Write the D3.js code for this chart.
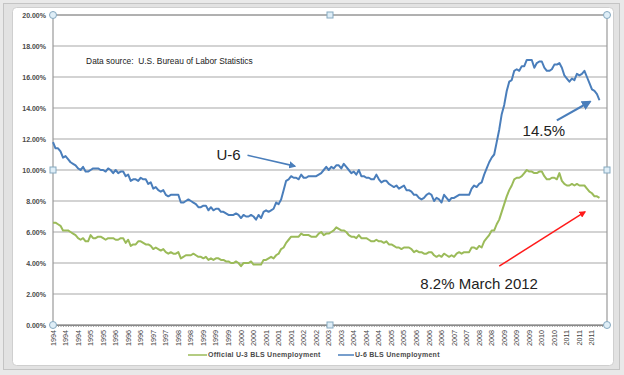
<!DOCTYPE html>
<html>
<head>
<meta charset="utf-8">
<script src="https://cdn.jsdelivr.net/npm/d3@7"></script>
<style>
  body { margin: 0; background: #fff; }
  svg { display: block; }
  text { font-family: "Liberation Sans", Arial, sans-serif; }
</style>
</head>
<body>
<svg id="svg1" width="624" height="375"></svg>
<script>
// monthly rates, Jan 1994 .. Mar 2012 (percent)
var u3Rate = [
  6.6, 6.6, 6.5, 6.4, 6.1, 6.1, 6.1, 6.0, 5.9, 5.8, 5.6, 5.5,
  5.6, 5.4, 5.4, 5.8, 5.6, 5.6, 5.7, 5.7, 5.6, 5.5, 5.6, 5.6,
  5.6, 5.5, 5.5, 5.6, 5.6, 5.3, 5.5, 5.1, 5.2, 5.2, 5.4, 5.4,
  5.3, 5.2, 5.2, 5.1, 4.9, 5.0, 4.9, 4.8, 4.9, 4.7, 4.6, 4.7,
  4.6, 4.6, 4.7, 4.3, 4.4, 4.5, 4.5, 4.5, 4.6, 4.5, 4.4, 4.4,
  4.3, 4.4, 4.2, 4.3, 4.2, 4.3, 4.3, 4.2, 4.2, 4.1, 4.1, 4.0,
  4.0, 4.1, 4.0, 3.8, 4.0, 4.0, 4.0, 4.1, 3.9, 3.9, 3.9, 3.9,
  4.2, 4.2, 4.3, 4.4, 4.3, 4.5, 4.6, 4.9, 5.0, 5.3, 5.5, 5.7,
  5.7, 5.7, 5.7, 5.9, 5.8, 5.8, 5.8, 5.7, 5.7, 5.7, 5.9, 6.0,
  5.8, 5.9, 5.9, 6.0, 6.1, 6.3, 6.2, 6.1, 6.1, 6.0, 5.8, 5.7,
  5.7, 5.6, 5.8, 5.6, 5.6, 5.6, 5.5, 5.4, 5.4, 5.5, 5.4, 5.4,
  5.3, 5.4, 5.2, 5.2, 5.1, 5.0, 5.0, 4.9, 5.0, 5.0, 5.0, 4.9,
  4.7, 4.8, 4.7, 4.7, 4.6, 4.6, 4.7, 4.7, 4.5, 4.4, 4.5, 4.4,
  4.6, 4.5, 4.4, 4.5, 4.4, 4.6, 4.7, 4.6, 4.7, 4.7, 4.7, 5.0,
  5.0, 4.9, 5.1, 5.0, 5.4, 5.6, 5.8, 6.1, 6.1, 6.5, 6.8, 7.3,
  7.8, 8.3, 8.7, 9.0, 9.4, 9.5, 9.5, 9.6, 9.8, 10.0, 9.9, 9.9,
  9.8, 9.8, 9.9, 9.9, 9.6, 9.4, 9.4, 9.5, 9.5, 9.4, 9.8, 9.3,
  9.1, 9.0, 9.0, 9.1, 9.0, 9.1, 9.0, 9.0, 9.0, 8.8, 8.6, 8.5,
  8.3, 8.3, 8.2
];

var u6Rate = [
  11.8, 11.4, 11.4, 11.2, 10.8, 10.9, 10.7, 10.5, 10.4, 10.3, 10.1, 10.0,
  10.2, 9.9, 9.9, 10.0, 10.1, 10.1, 10.1, 10.0, 10.0, 9.9, 10.1, 10.0,
  9.8, 10.0, 9.8, 9.9, 9.9, 9.6, 9.7, 9.3, 9.4, 9.4, 9.3, 9.5,
  9.4, 9.4, 9.1, 9.2, 8.8, 8.9, 8.7, 8.6, 8.7, 8.4, 8.3, 8.4,
  8.4, 8.4, 8.4, 7.9, 7.9, 8.0, 8.1, 8.0, 7.9, 7.8, 7.6, 7.6,
  7.7, 7.7, 7.4, 7.6, 7.4, 7.5, 7.5, 7.3, 7.3, 7.2, 7.1, 7.1,
  7.1, 7.2, 7.1, 6.9, 7.1, 7.0, 7.0, 7.1, 7.0, 6.8, 7.1, 6.9,
  7.3, 7.4, 7.3, 7.4, 7.5, 7.9, 7.8, 8.1, 8.7, 9.3, 9.4, 9.6,
  9.5, 9.5, 9.4, 9.7, 9.5, 9.5, 9.6, 9.6, 9.6, 9.6, 9.7, 9.8,
  10.0, 10.2, 10.0, 10.2, 10.1, 10.3, 10.3, 10.1, 10.4, 10.2, 10.0, 9.8,
  9.9, 9.7, 10.0, 9.6, 9.6, 9.5, 9.5, 9.4, 9.4, 9.7, 9.4, 9.2,
  9.3, 9.3, 9.1, 9.0, 8.9, 9.0, 8.8, 8.9, 9.0, 8.7, 8.7, 8.6,
  8.4, 8.4, 8.2, 8.1, 8.2, 8.4, 8.5, 8.4, 8.0, 8.2, 8.1, 7.9,
  8.4, 8.2, 8.0, 8.2, 8.2, 8.3, 8.4, 8.4, 8.4, 8.4, 8.4, 8.8,
  9.0, 8.9, 9.1, 9.2, 9.7, 10.1, 10.5, 10.8, 11.0, 11.8, 12.6, 13.6,
  14.2, 15.1, 15.7, 15.8, 16.4, 16.5, 16.4, 16.7, 16.7, 17.1, 17.1, 17.1,
  16.6, 16.9, 17.0, 17.0, 16.6, 16.4, 16.4, 16.5, 16.8, 16.8, 16.9, 16.6,
  16.1, 15.9, 15.7, 15.9, 15.8, 16.2, 16.1, 16.2, 16.4, 16.0, 15.6, 15.2,
  15.1, 14.9, 14.5
];

// category labels, one every 5 months starting Jan 1994
var tickYears = [
  "1994", "1994", "1994", "1995", "1995", "1996", "1996", "1996", "1997", "1997",
  "1998", "1998", "1999", "1999", "1999", "2000", "2000", "2001", "2001", "2001",
  "2002", "2002", "2003", "2003", "2004", "2004", "2004", "2005", "2005", "2006",
  "2006", "2006", "2007", "2007", "2008", "2008", "2009", "2009", "2009", "2010",
  "2010", "2011", "2011", "2011"
];
var tickEvery = 5;
var slotCount = 222; // category slots on the axis (data + blank rows)
var yTicks = [0, 2, 4, 6, 8, 10, 12, 14, 16, 18, 20];

var seriesNames = ["Official U-3 BLS Unemployment", "U-6 BLS Unemployment"];
var seriesColors = ["#9bbb59", "#4a7ebb"];

var svg = d3.select("body").select("svg#svg1");

var plot = { left: 53, right: 607, top: 15, bottom: 325 };

var x = d3.scaleLinear()
  .domain([0, slotCount - 1])
  .range([plot.left, plot.right]);

var y = d3.scaleLinear()
  .domain([0, 20])
  .range([plot.bottom, plot.top]);

var translate = function(a, b) {
  return "translate(" + String(a) + ", " + String(b) + ")";
};

/* frame */
svg.append("rect")
  .attr("width", 624).attr("height", 375)
  .attr("fill", "#e9e9e9");
svg.append("rect")
  .attr("x", 3.5).attr("y", 3.5).attr("width", 616).attr("height", 366)
  .attr("fill", "#e2e2e2").attr("stroke", "#c4c4c4");
svg.append("rect")
  .attr("x", 12.5).attr("y", 7.5).attr("width", 601).attr("height", 358)
  .attr("rx", 4)
  .attr("fill", "#ffffff").attr("stroke", "#cfcfcf");

/* grid */
svg.append("g")
  .attr("class", "grid")
  .selectAll("line")
  .data(yTicks)
  .enter().append("line")
  .attr("x1", plot.left).attr("x2", plot.right)
  .attr("y1", function(d) { return y(d); })
  .attr("y2", function(d) { return y(d); })
  .attr("stroke", "#a8a8a8")
  .attr("stroke-width", 1.2);

// plot area border (selected look)
svg.append("rect")
  .attr("x", plot.left).attr("y", plot.top)
  .attr("width", plot.right - plot.left).attr("height", plot.bottom - plot.top)
  .attr("fill", "none").attr("stroke", "#9a9a9a").attr("stroke-width", 1.2);

/* y axis labels */
var yAxis = d3.axisLeft(y)
  .tickValues(yTicks)
  .tickSize(0)
  .tickPadding(7)
  .tickFormat(function(d) { return d3.format(".2f")(d) + "%"; });

var yG = svg.append("g")
  .attr("id", "y-axis")
  .attr("transform", translate(plot.left, 0))
  .call(yAxis);
yG.select(".domain").remove();
yG.selectAll("text")
  .attr("font-size", 7)
  .attr("font-weight", "bold")
  .attr("fill", "#4a4a4a")
  .attr("font-family", "Liberation Sans, Arial, sans-serif");

/* x axis: a small tick per month, a label every 5 months */
var xAxis = d3.axisBottom(x)
  .tickValues(d3.range(0, slotCount))
  .tickSize(2)
  .tickFormat("");

var xG = svg.append("g")
  .attr("id", "x-axis")
  .attr("transform", translate(0, plot.bottom))
  .call(xAxis);
xG.select(".domain").attr("stroke", "#8a8a8a").attr("stroke-width", 1.2);
xG.selectAll(".tick line").attr("stroke", "#8a8a8a").attr("stroke-width", 0.8);

svg.append("g")
  .attr("class", "x-labels")
  .selectAll("text")
  .data(tickYears)
  .enter().append("text")
  .attr("transform", function(d, i) {
    return translate(x(i * tickEvery), plot.bottom + 5) + " rotate(-90)";
  })
  .attr("text-anchor", "end")
  .attr("dy", "0.35em")
  .attr("font-size", 7.2)
  .attr("fill", "#444")
  .text(function(d) { return d; });

/* series */
var line = d3.line()
  .x(function(d, i) { return x(i); })
  .y(function(d) { return y(d); });

[u3Rate, u6Rate].forEach(function(series, k) {
  svg.append("path")
    .datum(series)
    .attr("fill", "none")
    .attr("stroke", seriesColors[k])
    .attr("stroke-width", 2)
    .attr("stroke-linejoin", "round")
    .attr("d", line);
});

/* selection handles */
var handles = [
  [plot.left, plot.top, "c"], [plot.right, plot.top, "c"],
  [plot.left, plot.bottom, "c"], [plot.right, plot.bottom, "c"],
  [(plot.left + plot.right) / 2, plot.top, "s"], [(plot.left + plot.right) / 2, plot.bottom, "s"],
  [plot.left, (plot.top + plot.bottom) / 2, "s"], [plot.right, (plot.top + plot.bottom) / 2, "s"]
];
handles.forEach(function(h) {
  if (h[2] === "c") {
    svg.append("circle")
      .attr("cx", h[0]).attr("cy", h[1]).attr("r", 3.5)
      .attr("fill", "#dfeef7").attr("stroke", "#86a9c0").attr("stroke-width", 1);
  } else {
    svg.append("rect")
      .attr("x", h[0] - 3).attr("y", h[1] - 3).attr("width", 6).attr("height", 6)
      .attr("fill", "#dfeef7").attr("stroke", "#86a9c0").attr("stroke-width", 1);
  }
});

/* legend */
var legend = [
  { x1: 188, x2: 207 },
  { x1: 338, x2: 354 }
];
legend.forEach(function(l, k) {
  svg.append("line")
    .attr("x1", l.x1).attr("x2", l.x2)
    .attr("y1", 355).attr("y2", 355)
    .attr("stroke", seriesColors[k]).attr("stroke-width", 1.5);
  svg.append("text")
    .attr("x", l.x2 + 1).attr("y", 355).attr("dy", "0.35em")
    .attr("font-size", 7)
    .attr("font-weight", "bold")
    .attr("letter-spacing", 0.25)
    .attr("fill", "#4a4a4a")
    .text(seriesNames[k]);
});

/* annotations (positions in data units) */
var defs = svg.append("defs");
[["arrBlue", "#4a7ebb"], ["arrRed", "#ff1a1a"]].forEach(function(m) {
  defs.append("marker")
    .attr("id", m[0])
    .attr("viewBox", "0 0 10 10")
    .attr("refX", 8).attr("refY", 5)
    .attr("markerWidth", 4.5).attr("markerHeight", 4.5)
    .attr("orient", "auto")
    .append("path")
    .attr("d", "M0,0 L10,5 L0,10 z")
    .attr("fill", m[1]);
});

svg.append("text")
  .attr("x", x(13.2)).attr("y", y(17.0))
  .attr("dy", "0.35em")
  .attr("font-size", 8.4)
  .attr("fill", "#222")
  .style("white-space", "pre")
  .text("Data source:  U.S. Bureau of Labor Statistics");

var notes = [
  { text: "U-6", tx: 70, ty: 11.0, x1: 77.6, y1: 10.95, x2: 96.5, y2: 10.25, color: "#4a7ebb", marker: "arrBlue", w: 1.6 },
  { text: "14.5%", tx: 195.8, ty: 12.55, x1: 201, y1: 13.2, x2: 214.2, y2: 14.4, color: "#4a7ebb", marker: "arrBlue", w: 2.2 },
  { text: "8.2% March 2012", tx: 170, ty: 2.65, x1: 178, y1: 3.8, x2: 212.2, y2: 7.3, color: "#ff1a1a", marker: "arrRed", w: 1.5 }
];
notes.forEach(function(n) {
  svg.append("text")
    .attr("x", x(n.tx)).attr("y", y(n.ty))
    .attr("dy", "0.35em")
    .attr("text-anchor", "middle")
    .attr("font-size", 15)
    .attr("fill", "#222")
    .text(n.text);
  svg.append("line")
    .attr("x1", x(n.x1)).attr("y1", y(n.y1))
    .attr("x2", x(n.x2)).attr("y2", y(n.y2))
    .attr("stroke", n.color)
    .attr("stroke-width", n.w)
    .attr("marker-end", "url(#" + n.marker + ")");
});
</script>
</body>
</html>
